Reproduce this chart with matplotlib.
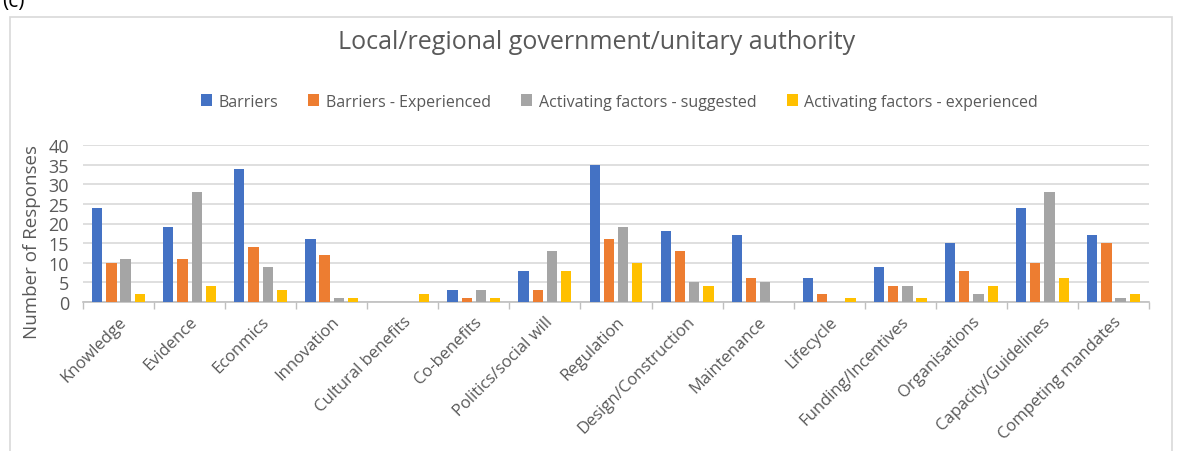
import matplotlib
matplotlib.use("Agg")
import matplotlib.pyplot as plt
import numpy as np
from matplotlib.patches import Rectangle

categories = ["Knowledge", "Evidence", "Econmics", "Innovation", "Cultural benefits",
              "Co-benefits", "Politics/social will", "Regulation", "Design/Construction",
              "Maintenance", "Lifecycle", "Funding/Incentives", "Organisations",
              "Capacity/Guidelines", "Competing mandates"]
barriers = [24, 19, 34, 16, 0, 3, 8, 35, 18, 17, 6, 9, 15, 24, 17]
barriers_exp = [10, 11, 14, 12, 0, 1, 3, 16, 13, 6, 2, 4, 8, 10, 15]
act_suggested = [11, 28, 9, 1, 0, 3, 13, 19, 5, 5, 0, 4, 2, 28, 1]
act_experienced = [2, 4, 3, 1, 2, 1, 8, 10, 4, 0, 1, 1, 4, 6, 2]
series_names = ["Barriers", "Barriers - Experienced", "Activating factors - suggested",
                "Activating factors - experienced"]
colors = ["#4472C4", "#ED7D31", "#A5A5A5", "#FFC000"]
yticks = [0, 5, 10, 15, 20, 25, 30, 35, 40]

plt.rcParams['font.family'] = ['Open Sans', 'DejaVu Sans']
fig = plt.figure(figsize=(11.82, 4.52), dpi=100)
ax = fig.add_axes([83 / 1182, 1 - 303 / 452, (1149 - 83) / 1182, (303 - 146) / 452])

x = np.arange(len(categories))
step = 0.2
width = 0.145
for i, (vals, name, c) in enumerate(zip([barriers, barriers_exp, act_suggested, act_experienced],
                                         series_names, colors)):
    ax.bar(x + (i - 1.5) * step, vals, width, color=c, label=name, zorder=3)

ax.set_xlim(-0.5, len(categories) - 0.5)
ax.set_ylim(0, 40)
ax.set_yticks(yticks)
ax.yaxis.grid(True, color="#D9D9D9", linewidth=1.2, zorder=0)
ax.tick_params(axis='y', length=0, labelsize=13, labelcolor="#595959", pad=10)
for s in ["top", "right", "left"]:
    ax.spines[s].set_visible(False)
ax.spines["bottom"].set_color("#BFBFBF")
ax.spines["bottom"].set_linewidth(1.2)

ax.set_xticks(x)
ax.set_xticklabels(categories, rotation=45, ha="right", rotation_mode="anchor",
                   fontsize=12, color="#595959")
ax.tick_params(axis='x', length=0, pad=8)
ax.set_xticks(np.arange(-0.5, len(categories) + 0.5, 1), minor=True)
ax.tick_params(axis='x', which='minor', length=5, color="#BFBFBF", width=1)

fig.text(32 / 1182, 1 - 242 / 452, "Number of Responses", rotation=90, ha="center",
         va="center", fontsize=13.5, color="#595959")

fig.text(0.505, 0.907, "Local/regional government/unitary authority", ha="center", va="center",
         fontsize=18, color="#595959")
leg = fig.legend(loc="center", bbox_to_anchor=(0.524, 0.773), ncol=4, frameon=False,
                 fontsize=11.5, handlelength=0.7, handleheight=0.7, handletextpad=0.4,
                 columnspacing=1.9)
for t in leg.get_texts():
    t.set_color("#595959")

fig.patches.append(Rectangle((10 / 1182, -0.01), 1162 / 1182, 1 - 18 / 452 + 0.01,
                             transform=fig.transFigure, fill=False, edgecolor="#D9D9D9",
                             linewidth=1.2))
fig.text(0.002, 0.997, "(c)", ha="left", va="center", fontsize=15, color="black")

fig.savefig("out.png", dpi=100)
